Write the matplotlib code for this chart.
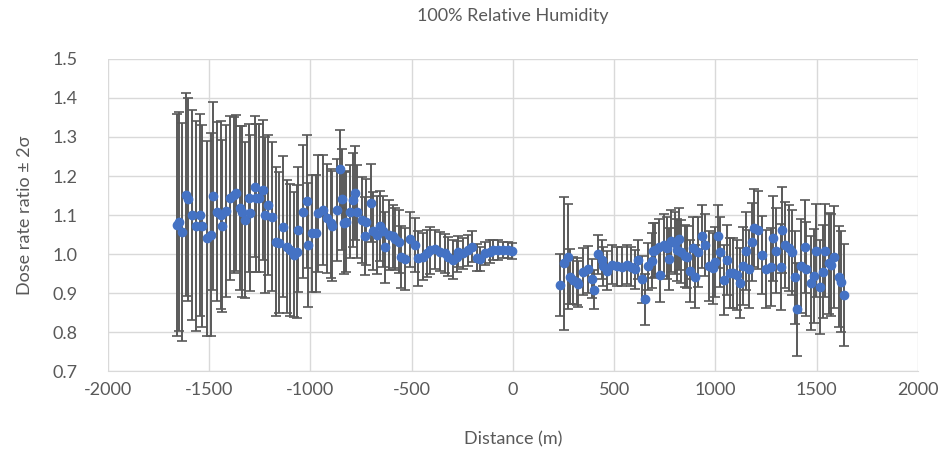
import matplotlib.pyplot as plt

# left branch (negative distances)
x_left = [-1657, -1650, -1635, -1614, -1603, -1586, -1565, -1545, -1535, -1509,
          -1492, -1482, -1463, -1443, -1435, -1417, -1397, -1377, -1367, -1347,
          -1339, -1323, -1306, -1298, -1273, -1268, -1254, -1233, -1224, -1208,
          -1188, -1171, -1155, -1134, -1117, -1101, -1080, -1065, -1060, -1035,
          -1019, -1011, -994, -973, -961, -937, -920, -899, -892, -870,
          -854, -843, -833, -824, -805, -791, -780, -769, -747, -731,
          -726, -703, -690, -673, -656, -640, -632, -611, -594, -582,
          -561, -553, -533, -508, -484, -467, -446, -426, -410, -385,
          -360, -336, -319, -295, -278, -270, -245, -221, -204, -179,
          -163, -138, -114, -97, -73, -48, -23, -6]
y_left = [1.075, 1.083, 1.057, 1.152, 1.140, 1.100, 1.072, 1.100, 1.072, 1.040,
          1.050, 1.149, 1.109, 1.100, 1.072, 1.110, 1.143, 1.152, 1.157, 1.118,
          1.109, 1.088, 1.143, 1.105, 1.173, 1.143, 1.143, 1.164, 1.100, 1.126,
          1.096, 1.032, 1.029, 1.070, 1.019, 1.010, 0.998, 1.006, 1.062, 1.109,
          1.135, 1.023, 1.053, 1.053, 1.105, 1.113, 1.092, 1.079, 1.072, 1.113,
          1.218, 1.140, 1.080, 1.083, 1.109, 1.139, 1.156, 1.109, 1.087, 1.046,
          1.083, 1.130, 1.058, 1.049, 1.072, 1.058, 1.017, 1.049, 1.045, 1.038,
          1.032, 0.992, 0.987, 1.038, 1.023, 0.989, 0.993, 1.002, 1.010, 1.012,
          1.006, 1.002, 0.993, 0.985, 0.993, 1.006, 1.002, 1.010, 1.019, 0.991,
          0.987, 1.002, 1.006, 1.010, 1.010, 1.010, 1.010, 1.008]
err_left = [0.285, 0.28, 0.28, 0.26, 0.26, 0.27, 0.27, 0.26, 0.26, 0.25,
            0.26, 0.24, 0.23, 0.24, 0.22, 0.22, 0.21, 0.20, 0.20, 0.21,
            0.22, 0.20, 0.19, 0.20, 0.18, 0.19, 0.19, 0.18, 0.20, 0.18,
            0.19, 0.19, 0.18, 0.18, 0.17, 0.17, 0.16, 0.17, 0.16, 0.17,
            0.17, 0.16, 0.15, 0.15, 0.15, 0.14, 0.14, 0.14, 0.14, 0.13,
            0.10, 0.13, 0.13, 0.13, 0.12, 0.12, 0.12, 0.12, 0.11, 0.10,
            0.11, 0.10, 0.10, 0.10, 0.09, 0.09, 0.09, 0.09, 0.08, 0.08,
            0.08, 0.08, 0.08, 0.07, 0.07, 0.07, 0.06, 0.06, 0.06, 0.05,
            0.05, 0.05, 0.05, 0.05, 0.04, 0.04, 0.04, 0.04, 0.04, 0.035,
            0.03, 0.03, 0.03, 0.025, 0.025, 0.02, 0.02, 0.02]

# right branch (positive distances)
x_right = [232, 253, 270, 281, 298, 314, 322, 347, 369, 391,
           401, 418, 438, 446, 467, 487, 512, 537, 561, 582,
           602, 616, 635, 652, 665, 685, 693, 701, 722, 726,
           745, 759, 772, 783, 800, 808, 821, 828, 849, 861,
           874, 890, 898, 915, 936, 948, 969, 986, 997, 1013,
           1025, 1042, 1058, 1071, 1088, 1107, 1121, 1137, 1153, 1165,
           1181, 1191, 1211, 1231, 1252, 1273, 1285, 1301, 1323, 1329,
           1346, 1362, 1379, 1395, 1405, 1422, 1441, 1445, 1471, 1487,
           1499, 1515, 1532, 1543, 1560, 1570, 1586, 1609, 1619, 1635]
y_right = [0.921, 0.976, 0.993, 0.942, 0.933, 0.929, 0.923, 0.955, 0.961, 0.937,
           0.908, 1.000, 0.985, 0.969, 0.957, 0.972, 0.969, 0.968, 0.972, 0.968,
           0.961, 0.985, 0.935, 0.884, 0.969, 0.983, 1.009, 1.010, 1.019, 0.946,
           1.023, 1.015, 0.988, 1.033, 1.028, 1.010, 1.038, 1.006, 0.995, 0.992,
           0.957, 1.015, 0.942, 1.006, 1.045, 1.023, 0.969, 0.963, 0.980, 1.045,
           1.006, 0.933, 0.985, 0.951, 0.952, 0.946, 0.925, 0.969, 1.009, 0.961,
           1.032, 1.066, 1.062, 0.998, 0.961, 0.968, 1.040, 1.009, 0.966, 1.062,
           1.023, 1.015, 1.004, 0.940, 0.858, 0.969, 1.019, 0.961, 0.925, 0.944,
           1.009, 0.916, 0.955, 1.009, 0.976, 0.972, 0.992, 0.942, 0.929, 0.895]
err_right = [0.08, 0.17, 0.135, 0.07, 0.06, 0.06, 0.06, 0.06, 0.06, 0.05,
             0.05, 0.05, 0.05, 0.05, 0.05, 0.05, 0.05, 0.05, 0.05, 0.05,
             0.05, 0.05, 0.06, 0.065, 0.06, 0.07, 0.07, 0.07, 0.07, 0.07,
             0.08, 0.08, 0.08, 0.08, 0.08, 0.08, 0.08, 0.08, 0.08, 0.08,
             0.08, 0.08, 0.08, 0.09, 0.08, 0.08, 0.09, 0.09, 0.09, 0.08,
             0.09, 0.09, 0.09, 0.09, 0.09, 0.09, 0.09, 0.10, 0.10, 0.10,
             0.10, 0.10, 0.10, 0.10, 0.10, 0.10, 0.11, 0.11, 0.11, 0.11,
             0.11, 0.11, 0.11, 0.12, 0.12, 0.12, 0.12, 0.12, 0.12, 0.12,
             0.12, 0.12, 0.12, 0.12, 0.13, 0.13, 0.13, 0.13, 0.13, 0.13]

x_ticks = [-2000, -1500, -1000, -500, 0, 500, 1000, 1500, 2000]
y_ticks = [0.7, 0.8, 0.9, 1.0, 1.1, 1.2, 1.3, 1.4, 1.5]

plt.rcParams['font.family'] = ['Lato', 'DejaVu Sans']
text_col = '#595959'

fig = plt.figure(figsize=(9.45, 4.57), dpi=100)
ax = fig.add_axes([0.1143, 0.188, 0.857, 0.683])

for xs, ys, es in [(x_left, y_left, err_left), (x_right, y_right, err_right)]:
    ax.errorbar(xs, ys, yerr=es, fmt='o', color='#4472C4', markersize=6,
                ecolor='#595959', elinewidth=1.4, capsize=3.5, capthick=1.2)

ax.set_xlim(-2000, 2000)
ax.set_ylim(0.7, 1.5)
ax.set_xticks(x_ticks)
ax.set_yticks(y_ticks)
ax.set_xticklabels([str(t) for t in x_ticks])
ax.set_yticklabels(['%.1f' % t for t in y_ticks])
ax.grid(True, color='#d9d9d9', linewidth=1)
ax.set_axisbelow(True)
for s in ['top', 'right', 'left']:
    ax.spines[s].set_visible(False)
ax.spines['bottom'].set_color('#d9d9d9')
ax.tick_params(length=0, labelsize=13, labelcolor=text_col)
ax.tick_params(axis='x', pad=8)
ax.tick_params(axis='y', pad=22)

ax.set_title('100% Relative Humidity', fontsize=13, color=text_col, pad=27)
ax.set_xlabel('Distance (m)', fontsize=13, color=text_col, labelpad=24)
ax.set_ylabel('Dose rate ratio ± 2σ', fontsize=13, color=text_col, labelpad=14)

fig.savefig('out.png', dpi=100)
